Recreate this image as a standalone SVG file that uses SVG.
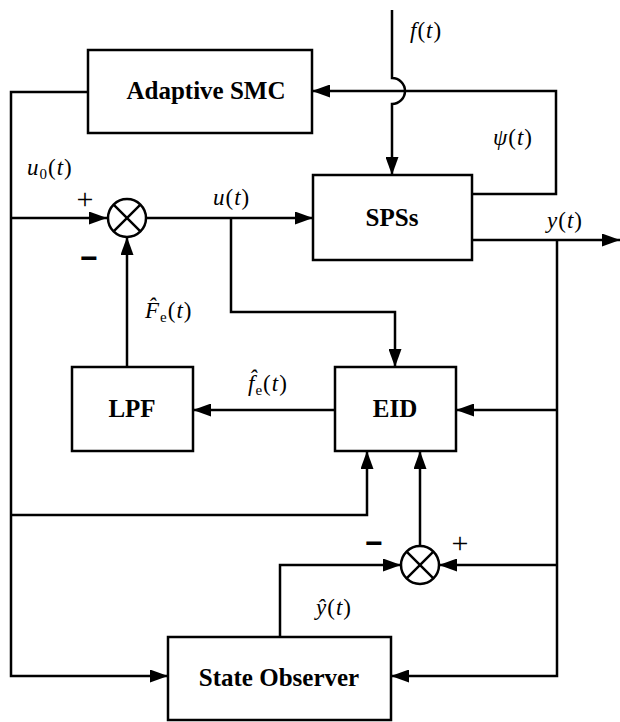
<svg xmlns="http://www.w3.org/2000/svg" width="620" height="722" viewBox="0 0 620 722">
<style>
.box{fill:#fff;stroke:#000;stroke-width:2.5}
.blk{font-family:"Liberation Serif","Times New Roman",serif;font-weight:bold;font-size:25px;text-anchor:middle;fill:#000}
.ln{fill:none;stroke:#000;stroke-width:2.5}
.arr{fill:none;stroke:#000;stroke-width:2.5;marker-end:url(#ah)}
.m{font-family:"Liberation Serif","Times New Roman",serif;font-size:23px;letter-spacing:1px;fill:#000}
.i{font-style:italic}
.sub{font-size:15px}
.pl{font-family:"Liberation Serif","Times New Roman",serif;font-size:30px;fill:#000;text-anchor:middle}
.mn{font-family:"Liberation Sans",Arial,sans-serif;font-size:30px;font-weight:bold;fill:#000;text-anchor:middle}
.sum{fill:#fff;stroke:#000;stroke-width:2.5}
</style>
<defs>
<marker id="ah" markerUnits="userSpaceOnUse" markerWidth="18" markerHeight="13" refX="18" refY="6.5" orient="auto">
<path d="M0,0 L18,6.5 L0,13 z" fill="#000"/>
</marker>
</defs>
<g id="connectors">
<path class="arr" d="M88,92 L11,92 L11,676 L168,676"/>
<path class="arr" d="M11,218 L107,218"/>
<path class="arr" d="M11,515 L367,515 L367,451"/>
<path class="arr" d="M146,218 L313,218"/>
<path class="arr" d="M231,218 L231,312 L395,312 L395,367"/>
<path class="arr" d="M127,367 L127,237"/>
<path class="arr" d="M335,410 L193,410"/>
<path class="arr" d="M392,10 L392,78 A13,13 0 0 1 392,104 L392,175"/>
<path class="arr" d="M472,194 L556,194 L556,91 L312,91"/>
<path class="arr" d="M472,240 L620,240"/>
<path class="arr" d="M557,240 L557,676 L391,676"/>
<path class="arr" d="M557,410 L456,410"/>
<path class="arr" d="M557,565 L439,565"/>
<path class="arr" d="M420,546 L420,451"/>
<path class="arr" d="M280,637 L280,565 L401,565"/>
</g>
<g id="adaptive-smc">
<rect class="box" x="88" y="50" width="224" height="83"/>
<text class="blk" x="206" y="99">Adaptive SMC</text>
</g>
<g id="spss">
<rect class="box" x="313" y="175" width="159" height="85"/>
<text class="blk" x="392" y="226">SPSs</text>
</g>
<g id="lpf">
<rect class="box" x="72" y="367" width="121" height="84"/>
<text class="blk" x="132" y="417">LPF</text>
</g>
<g id="eid">
<rect class="box" x="335" y="367" width="121" height="84"/>
<text class="blk" x="395" y="417">EID</text>
</g>
<g id="state-observer">
<rect class="box" x="168" y="637" width="223" height="83"/>
<text class="blk" x="279" y="686">State Observer</text>
</g>
<g id="summer1">
<circle class="sum" cx="127" cy="218" r="19"/>
<path class="ln" d="M113.6,204.6 L140.4,231.4 M140.4,204.6 L113.6,231.4"/>
<text class="pl" x="85" y="209">+</text>
<text class="mn" x="89" y="268">−</text>
</g>
<g id="summer2">
<circle class="sum" cx="420" cy="565" r="19"/>
<path class="ln" d="M406.6,551.6 L433.4,578.4 M433.4,551.6 L406.6,578.4"/>
<text class="mn" x="374" y="553">−</text>
<text class="pl" x="460" y="553">+</text>
</g>
<g id="labels">
<text class="m" x="410" y="38"><tspan class="i">f</tspan>(<tspan class="i">t</tspan>)</text>
<text class="m" x="493" y="145"><tspan class="i">ψ</tspan>(<tspan class="i">t</tspan>)</text>
<text class="m" x="27" y="175"><tspan class="i">u</tspan><tspan class="sub" dy="4">0</tspan><tspan dy="-4">(</tspan><tspan class="i">t</tspan>)</text>
<text class="m" x="213" y="205"><tspan class="i">u</tspan>(<tspan class="i">t</tspan>)</text>
<text class="m" x="547" y="228"><tspan class="i">y</tspan>(<tspan class="i">t</tspan>)</text>
<text class="m" x="145" y="318"><tspan class="i">F̂</tspan><tspan class="sub" dy="4">e</tspan><tspan dy="-4">(</tspan><tspan class="i">t</tspan>)</text>
<text class="m" x="248" y="391"><tspan class="i">f̂</tspan><tspan class="sub" dy="4">e</tspan><tspan dy="-4">(</tspan><tspan class="i">t</tspan>)</text>
<text class="m" x="316" y="615"><tspan class="i">ŷ</tspan>(<tspan class="i">t</tspan>)</text>
</g>
</svg>
